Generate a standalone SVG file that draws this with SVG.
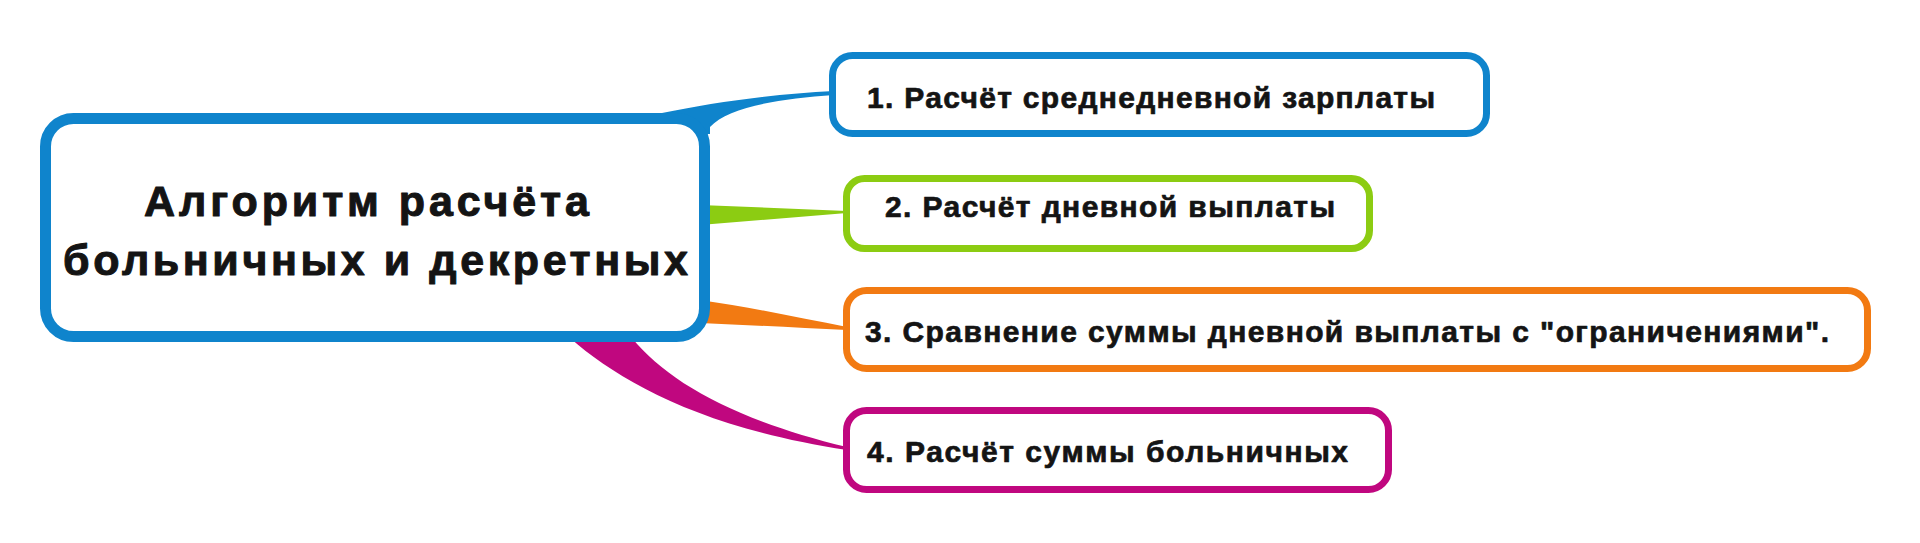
<svg xmlns="http://www.w3.org/2000/svg" width="1920" height="543" viewBox="0 0 1920 543">
  <style>
    .box { fill: #ffffff; }
    .txt { font-family: "Liberation Sans", Arial, sans-serif; font-weight: bold; fill: #141414; stroke: #141414; stroke-linejoin: round; }
    .sub { font-size: 30px; stroke-width: 0.7px; }
    .main { font-size: 43px; stroke-width: 1px; }
  </style>
  <rect width="1920" height="543" fill="#ffffff"/>
  <g id="connectors">
    <path d="M 662 113 C 712 103, 772 94, 834 91 L 834 95 C 778 99, 728 107, 710 127 L 710 134 L 699 134 Z" fill="#0f84cc"/>
    <path d="M 700 205 L 847 211 L 847 213 L 700 225 Z" fill="#8ccc12"/>
    <path d="M 700 300 C 750 307, 800 318, 847 327 L 847 330 C 800 328, 750 325, 700 323 Z" fill="#f27a12"/>
    <path d="M 570 338 L 632 338 C 668 382, 735 420, 847 447 L 847 450 C 700 428, 618 380, 570 338 Z" fill="#c0077f"/>
  </g>
  <g id="central">
    <rect class="box" x="45.5" y="118.5" width="659" height="218" rx="28" stroke="#0f84cc" stroke-width="11"/>
    <text class="txt main" x="144" y="216" textLength="445" lengthAdjust="spacing">Алгоритм расчёта</text>
    <text class="txt main" x="63" y="275" textLength="625" lengthAdjust="spacing">больничных и декретных</text>
  </g>
  <g id="node1">
    <rect class="box" x="832.5" y="55.5" width="654" height="78" rx="20" stroke="#0f84cc" stroke-width="7"/>
    <text class="txt sub" x="867" y="108" textLength="568" lengthAdjust="spacing">1. Расчёт среднедневной зарплаты</text>
  </g>
  <g id="node2">
    <rect class="box" x="846.5" y="178.5" width="523" height="70" rx="18" stroke="#8ccc12" stroke-width="7"/>
    <text class="txt sub" x="885" y="217" textLength="450" lengthAdjust="spacing">2. Расчёт дневной выплаты</text>
  </g>
  <g id="node3">
    <rect class="box" x="846.5" y="290.5" width="1021" height="78" rx="20" stroke="#f27a12" stroke-width="7"/>
    <text class="txt sub" x="865" y="342" textLength="964" lengthAdjust="spacing">3. Сравнение суммы дневной выплаты с "ограничениями".</text>
  </g>
  <g id="node4">
    <rect class="box" x="846.5" y="410.5" width="542" height="79" rx="20" stroke="#c0077f" stroke-width="7"/>
    <text class="txt sub" x="867" y="462" textLength="481" lengthAdjust="spacing">4. Расчёт суммы больничных</text>
  </g>
</svg>
